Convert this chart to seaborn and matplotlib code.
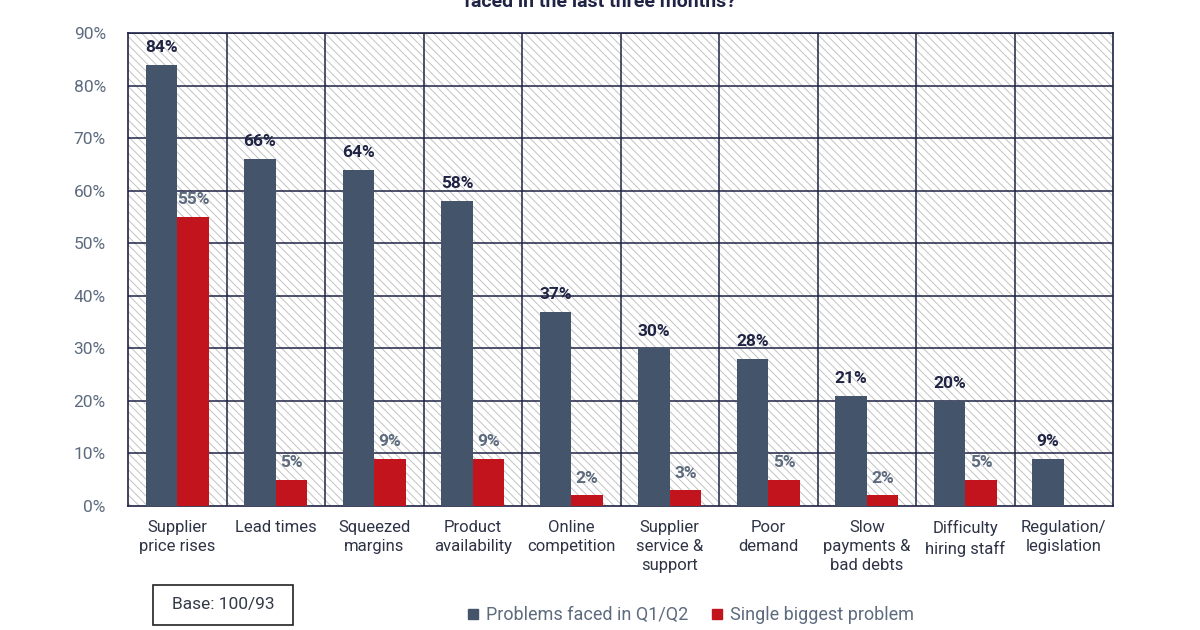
import matplotlib
matplotlib.use("Agg")
import matplotlib.pyplot as plt
from matplotlib.patches import Rectangle
import numpy as np
import pandas as pd
import seaborn as sns

# data
categories = ["Supplier\nprice rises", "Lead times", "Squeezed\nmargins", "Product\navailability",
              "Online\ncompetition", "Supplier\nservice &\nsupport", "Poor\ndemand",
              "Slow\npayments &\nbad debts", "Difficulty\nhiring staff", "Regulation/\nlegislation"]
faced = [84, 66, 64, 58, 37, 30, 28, 21, 20, 9]
biggest = [55, 5, 9, 9, 2, 3, 5, 2, 5, np.nan]
series = ["Problems faced in Q1/Q2", "Single biggest problem"]
yticks = [0, 10, 20, 30, 40, 50, 60, 70, 80, 90]

blue = "#44546a"
red = "#c2141c"
navy = "#1f2344"
grey_txt = "#5d6b7e"

df = pd.DataFrame({
    "cat": categories * 2,
    "val": faced + biggest,
    "series": [series[0]] * len(faced) + [series[1]] * len(biggest),
})

sns.set_style("white")
plt.rcParams["font.family"] = ["Roboto", "DejaVu Sans"]
plt.rcParams["hatch.linewidth"] = 0.7

fig = plt.figure(figsize=(12, 6.3), dpi=100)
ax = fig.add_axes([128 / 1200, 1 - 506 / 630, (1113 - 128) / 1200, (506 - 33) / 630])

# hatched background
ax.add_patch(Rectangle((0, 0), 1, 1, transform=ax.transAxes, facecolor="white",
                       edgecolor="#c2c2c2", hatch="\\\\\\\\", lw=0, zorder=0))

sns.barplot(data=df, x="cat", y="val", hue="series", order=categories, hue_order=series,
            palette=[blue, red], width=0.64, saturation=1, linewidth=0, ax=ax,
            legend=False, zorder=3)

ax.set_ylim(0, 90)
ax.set_xlim(-0.5, len(categories) - 0.5)
ax.set_yticks(yticks)
ax.set_yticklabels([f"{v}%" for v in yticks], color=grey_txt, fontsize=12.5)
ax.tick_params(axis="y", length=0, pad=16)
ax.tick_params(axis="x", length=0, pad=10, labelsize=12, labelcolor="#2e3446")
for lab in ax.get_xticklabels():
    lab.set_linespacing(1.35)
    lab.set_verticalalignment("top")
ax.set_xlabel("")
ax.set_ylabel("")

# grid
for y in yticks[1:]:
    ax.axhline(y, color=navy, lw=1.1, zorder=2)
for x in np.arange(0.5, len(categories) - 0.5, 1):
    ax.axvline(x, color=navy, lw=1.1, zorder=2)
for s in ax.spines.values():
    s.set_visible(True)
    s.set_color(navy)
    s.set_linewidth(1.2)

# value labels
cols = [navy, grey_txt]
for cont, c in zip(ax.containers, cols):
    for bar in cont:
        if bar is None:
            continue
        h = bar.get_height()
        if np.isnan(h):
            continue
        ax.annotate(f"{int(round(h))}%", (bar.get_x() + bar.get_width() / 2, h),
                    xytext=(0, 7), textcoords="offset points", ha="center", va="bottom",
                    color=c, fontsize=12.5, fontweight="bold", zorder=4)

# legend
handles = [plt.Line2D([], [], marker="s", ls="", color=blue, markersize=7),
           plt.Line2D([], [], marker="s", ls="", color=red, markersize=7)]
fig.legend(handles, series, loc="center", bbox_to_anchor=(0.575, 1 - 615 / 630), ncol=2,
           frameon=False, fontsize=13, labelcolor=grey_txt, handletextpad=0.3,
           columnspacing=1.2, handlelength=0.8)

# base box
fig.add_artist(Rectangle((153 / 1200, 1 - 625 / 630), 140 / 1200, 40 / 630,
                         transform=fig.transFigure, fill=False, edgecolor="#222222", lw=1.2))
fig.text(223 / 1200, 1 - 605 / 630, "Base: 100/93", ha="center", va="center",
         fontsize=12.5, color="#333a48")

# title (cut off at the top in the reference)
fig.text(0.5, 1 - 2 / 630, "faced in the last three months?", ha="center", va="center",
         fontsize=14, fontweight="bold", color=navy)

fig.savefig("out.png", dpi=100)
